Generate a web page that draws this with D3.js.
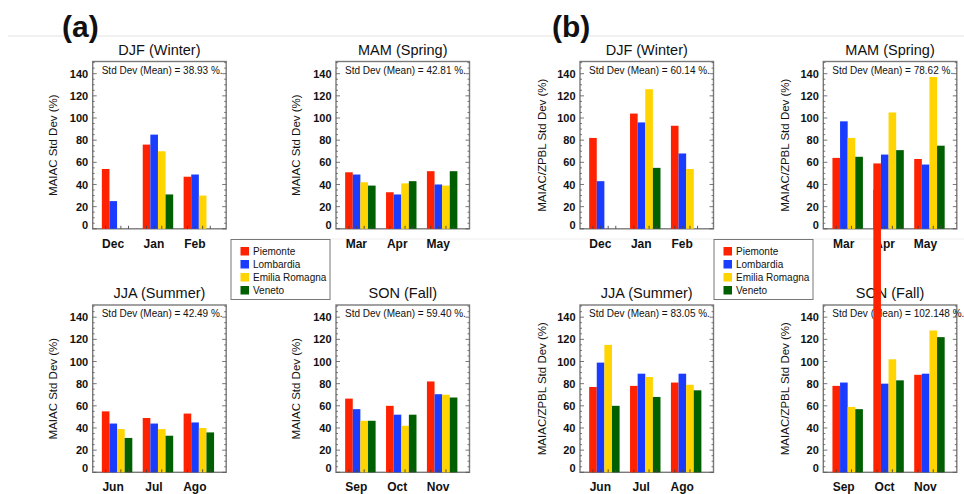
<!DOCTYPE html>
<html>
<head>
<meta charset="utf-8">
<script src="https://cdn.jsdelivr.net/npm/d3@7"></script>
<style>
  body { margin: 0; background: #fff; }
  text { font-family: "Liberation Sans", Arial, Helvetica, sans-serif; fill: #111; }
</style>
</head>
<body>
<script>
// regions (legend order = bar order)
const regions = ['Piemonte', 'Lombardia', 'Emilia Romagna', 'Veneto'];
const regionColors = ['#ff2200', '#1a3cff', '#ffd400', '#005f00'];

const seasonTitles = ['DJF (Winter)', 'MAM (Spring)', 'JJA (Summer)', 'SON (Fall)'];
const seasonMonths = [['Dec', 'Jan', 'Feb'], ['Mar', 'Apr', 'May'], ['Jun', 'Jul', 'Ago'], ['Sep', 'Oct', 'Nov']];
const yTicks = [0, 20, 40, 60, 80, 100, 120, 140];

// (a) MAIAC std dev, per month: [Piemonte, Lombardia, Emilia Romagna, Veneto], 0 = no bar
const maiacDJF = [[54, 25, 0, 0], [76, 85, 70, 31], [47, 49, 30, 0]];
const maiacMAM = [[51, 49, 42, 39], [33, 31, 41, 43], [52, 40, 39, 52]];
const maiacJJA = [[55, 44, 39, 31], [49, 44, 39, 33], [53, 45, 40, 36]];
const maiacSON = [[66.5, 57, 46.5, 46.5], [60, 52, 42, 52], [82, 70.5, 70, 67.5]];
const maiacMeans = ['38.93', '42.81', '42.49', '59.40'];

// (b) MAIAC/ZPBL std dev
const zpblDJF = [[82, 43, 0, 0], [104, 96, 126, 55], [93, 68, 54, 0]];
const zpblMAM = [[64, 97, 82, 65], [59, 67, 105, 71], [63, 58, 137, 75]];
const zpblJJA = [[77, 99, 115, 60], [78, 89, 86, 68], [81, 89, 79, 74]];
const zpblSON = [[78, 81, 59, 57], [255, 80, 102, 83], [88, 89, 128, 122]];
const zpblMeans = ['60.14', '78.62', '83.05', '102.148'];

const width = 964,
    height = 494;

const figures = [
    { tag: '(a)', tagX: 62, cols: [92.7, 336], ylabel: 'MAIAC Std Dev (%)', labelOff: 40,
      values: [maiacDJF, maiacMAM, maiacJJA, maiacSON], means: maiacMeans, legendX: 231 },
    { tag: '(b)', tagX: 552, cols: [580, 823.3], ylabel: 'MAIAC/ZPBL Std Dev (%)', labelOff: 38,
      values: [zpblDJF, zpblMAM, zpblJJA, zpblSON], means: zpblMeans, legendX: 714 }
];

const rows = [61.5, 305];
const panelW = 133.5,
    panelH = 167.3;

const svg = d3.select('body')
    .append('svg')
    .attr('width', width)
    .attr('height', height);

// faint slide rules
svg.append('line')
    .attr('x1', 8).attr('x2', width).attr('y1', 36).attr('y2', 36)
    .attr('stroke', '#e2e2e2').attr('stroke-width', 1);
svg.append('line')
    .attr('x1', 240).attr('x2', width).attr('y1', 239).attr('y2', 239)
    .attr('stroke', '#eeeeee').attr('stroke-width', 1);

figures.forEach(fig => {
    svg.append('text')
        .attr('x', fig.tagX)
        .attr('y', 37)
        .style('font-size', '30px')
        .style('font-weight', 'bold')
        .text(fig.tag);

    fig.values.forEach((vals, i) => {
        const L = fig.cols[i % 2],
            T = rows[Math.floor(i / 2)],
            B = T + panelH;
        const g = svg.append('g');

        const y = d3.scaleLinear().domain([0, 151]).range([B, T]);
        const x = d3.scaleBand()
            .domain(seasonMonths[i])
            .range([L, L + panelW])
            .paddingInner(0.255)
            .paddingOuter(0.26)
            .align(0.43);
        const xr = d3.scaleBand()
            .domain(regions)
            .range([0, x.bandwidth()]);

        // title
        g.append('text')
            .attr('x', L + panelW / 2)
            .attr('y', T - 7)
            .attr('text-anchor', 'middle')
            .style('font-size', '14.5px')
            .text(seasonTitles[i]);

        // box
        g.append('rect')
            .attr('x', L).attr('y', T)
            .attr('width', panelW).attr('height', panelH)
            .attr('fill', 'none')
            .attr('stroke', '#7a7a7a')
            .attr('stroke-width', 1.4);

        // minor ticks left/right
        const minor = d3.range(0, 151, 5);
        [[L, 1], [L + panelW, -1]].forEach(([ex, dir]) => {
            g.selectAll(null)
                .data(minor)
                .enter()
                .append('line')
                .attr('x1', ex).attr('x2', d => ex + dir * (d % 20 === 0 ? 4 : 2))
                .attr('y1', d => y(d)).attr('y2', d => y(d))
                .attr('stroke', '#555').attr('stroke-width', 0.8);
        });

        // y axis labels
        const yAxis = g.append('g')
            .attr('transform', 'translate(' + L + ',0)')
            .call(d3.axisLeft(y).tickValues(yTicks).tickSize(0).tickPadding(4.5));
        yAxis.select('.domain').remove();
        yAxis.selectAll('text')
            .style('font-size', '11px')
            .style('font-weight', 'bold')
            .style('font-family', '"Liberation Sans", Arial, sans-serif')
            .attr('fill', '#111')
            .attr('dy', d => d === 0 ? '-0.05em' : '0.32em');

        // y label
        g.append('text')
            .attr('transform', 'translate(' + (L - fig.labelOff) + ',' + (T + panelH / 2) + ') rotate(-90)')
            .attr('text-anchor', 'middle')
            .attr('dy', '0.35em')
            .style('font-size', '11.5px')
            .text(fig.ylabel);

        // std dev text
        g.append('text')
            .attr('x', L + 9)
            .attr('y', T + 12)
            .style('font-size', '10px')
            .text('Std Dev (Mean) = ' + fig.means[i] + ' %.');

        // month labels
        g.selectAll('.mlab')
            .data(seasonMonths[i])
            .enter()
            .append('text')
            .attr('x', d => x(d) + x.bandwidth() / 2 - 4)
            .attr('y', B + 19)
            .attr('text-anchor', 'middle')
            .style('font-size', '12px')
            .style('font-weight', 'bold')
            .text(d => d);

        // bars
        const groups = g.selectAll('.grp')
            .data(vals)
            .enter()
            .append('g')
            .attr('transform', (d, m) => 'translate(' + x(seasonMonths[i][m]) + ',0)');

        groups.selectAll('rect')
            .data(d => d.map((v, r) => ({ v: v, r: r })).filter(e => e.v > 0))
            .enter()
            .append('rect')
            .attr('x', e => xr(regions[e.r]))
            .attr('width', xr.bandwidth())
            .attr('y', e => y(e.v))
            .attr('height', e => B - y(e.v))
            .attr('fill', e => regionColors[e.r]);

        // small ticks under each bar slot
        groups.selectAll('line')
            .data(regions)
            .enter()
            .append('line')
            .attr('x1', d => xr(d) + xr.bandwidth() / 2)
            .attr('x2', d => xr(d) + xr.bandwidth() / 2)
            .attr('y1', B).attr('y2', B - 3)
            .attr('stroke', '#444').attr('stroke-width', 0.9);
    });

    // legend
    const lg = svg.append('g');
    lg.append('rect')
        .attr('x', fig.legendX).attr('y', 239.5)
        .attr('width', 99).attr('height', 60)
        .attr('fill', '#fff')
        .attr('stroke', '#777')
        .attr('stroke-width', 1);
    regions.forEach((r, k) => {
        lg.append('rect')
            .attr('x', fig.legendX + 9.5)
            .attr('y', 247 + k * 13)
            .attr('width', 8.5).attr('height', 8.5)
            .attr('fill', regionColors[k]);
        lg.append('text')
            .attr('x', fig.legendX + 22)
            .attr('y', 251.3 + k * 13)
            .attr('dy', '0.35em')
            .style('font-size', '10px')
            .text(r);
    });
});
</script>
</body>
</html>
